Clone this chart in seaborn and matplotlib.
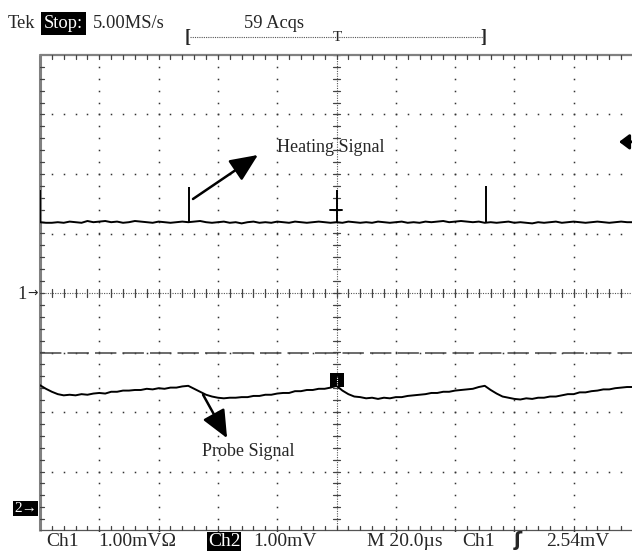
import numpy as np
import pandas as pd
import matplotlib
matplotlib.use("Agg")
import matplotlib.pyplot as plt
import seaborn as sns

# ---------------- data (time in µs, amplitude in divisions) ----------------
time_us = list(range(-100, 101, 2))

heating_div = [
    1.19, 1.18, 1.18, 1.19, 1.18, 1.20, 1.19, 1.18, 1.21, 1.19,
    1.20, 1.21, 1.19, 1.20, 1.18, 1.19, 1.21, 1.20, 1.19, 1.18,
    1.20, 1.19, 1.18, 1.19, 1.20, 1.19, 1.20, 1.21, 1.19, 1.18,
    1.19, 1.20, 1.18, 1.19, 1.17, 1.19, 1.20, 1.18, 1.19, 1.18,
    1.20, 1.19, 1.18, 1.20, 1.19, 1.18, 1.19, 1.20, 1.19, 1.18,
    1.19,
    1.18, 1.20, 1.19, 1.18, 1.19, 1.18, 1.20, 1.19, 1.18, 1.19,
    1.20, 1.18, 1.19, 1.18, 1.20, 1.19, 1.20, 1.21, 1.19, 1.20,
    1.21, 1.20, 1.19, 1.20, 1.18, 1.19, 1.18, 1.19, 1.20, 1.18,
    1.19, 1.18, 1.17, 1.19, 1.18, 1.19, 1.20, 1.18, 1.19, 1.20,
    1.19, 1.18, 1.19, 1.20, 1.19, 1.18, 1.19, 1.20, 1.19, 1.19,
]

probe_div = [
    -1.55, -1.61, -1.66, -1.70, -1.72, -1.71, -1.72, -1.70, -1.71, -1.69,
    -1.68, -1.69, -1.66, -1.66, -1.64, -1.64, -1.63, -1.63, -1.61, -1.62,
    -1.60, -1.61, -1.59, -1.59, -1.57,
    -1.56, -1.61, -1.66, -1.71, -1.74, -1.76, -1.77, -1.76, -1.76, -1.75,
    -1.75, -1.73, -1.73, -1.71, -1.71, -1.69, -1.68, -1.68, -1.65, -1.65,
    -1.63, -1.63, -1.61, -1.61, -1.59,
    -1.56, -1.64, -1.70, -1.74, -1.75, -1.77, -1.76, -1.78, -1.76, -1.77,
    -1.75, -1.75, -1.73, -1.72, -1.71, -1.70, -1.68, -1.68, -1.66, -1.66,
    -1.64, -1.63, -1.62, -1.61, -1.58,
    -1.56, -1.63, -1.69, -1.74, -1.76, -1.78, -1.79, -1.77, -1.78, -1.76,
    -1.76, -1.74, -1.74, -1.72, -1.70, -1.70, -1.67, -1.67, -1.65, -1.64,
    -1.62, -1.62, -1.60, -1.59, -1.58, -1.58,
]

spike_t = [-100, -49.7, 0.2, 50.4]
spike_peak = [1.73, 1.78, 1.73, 1.80]

probe_ref_level = -1.0      # dashed reference line
trigger_level = 2.54        # trigger level marker (div)

df_heat = pd.DataFrame({"t": time_us, "v": heating_div})
df_probe = pd.DataFrame({"t": time_us, "v": probe_div})

# ---------------- figure ----------------
sns.set_style("white")
plt.rcParams["font.family"] = ["Liberation Serif", "DejaVu Sans"]

W, H = 632, 552
fig = plt.figure(figsize=(W / 100, H / 100), dpi=100)
ax = fig.add_axes([40 / W, 21 / H, 593 / W, 476 / H])
ax.set_xlim(-100, 100)
ax.set_ylim(-4, 4)
ax.axis("off")

def fx(x):
    return x / W

def fy(y):
    return 1 - y / H

gc = "#333333"
# graticule dots
for gx in range(-80, 101, 20):
    if gx == 0:
        continue
    ys = np.arange(-4, 4.01, 0.2)
    ax.plot([gx] * len(ys), ys, ls="none", marker="s", ms=1.1, color=gc, mew=0)
for gy in [-3, -2, -1, 1, 2, 3]:
    xs = np.arange(-100, 100.1, 4)
    ax.plot(xs, [gy] * len(xs), ls="none", marker="s", ms=1.1, color=gc, mew=0)

# center cross
ax.axhline(0, color="#555555", lw=0.8, ls=(0, (1, 1.2)))
ax.axvline(0, color="#555555", lw=0.8, ls=(0, (1, 1.2)))
for xs in np.arange(-100, 100.1, 4):
    ax.plot([xs, xs], [-0.06, 0.06], color="#444444", lw=0.9)
for ys in np.arange(-4, 4.01, 0.2):
    ax.plot([-1.2, 1.2], [ys, ys], color="#444444", lw=0.9)

# borders
ax.plot([-100, -100], [-4, 4], color="#808080", lw=2.2, clip_on=False, solid_capstyle="butt")
ax.plot([-100, 100], [4, 4], color="#808080", lw=1.6, clip_on=False)
ax.plot([-100, 100], [-3.98, -3.98], color="#555555", lw=0.9, clip_on=False)
for xs in np.arange(-96, 100.1, 4):
    ax.plot([xs, xs], [4, 3.93], color="#444444", lw=0.9)
    ax.plot([xs, xs], [-3.98, -3.91], color="#444444", lw=0.9)
for ys in np.arange(-3.8, 4.0, 0.2):
    ax.plot([-100, -98.6], [ys, ys], color="#444444", lw=0.9)

# probe reference dashed line
ax.axhline(probe_ref_level, color="#444444", lw=1.1, ls=(0, (14, 4)))

# traces
sns.lineplot(data=df_heat, x="t", y="v", ax=ax, color="black", lw=1.4, sort=False)
ax.vlines(spike_t, [1.19] * len(spike_t), spike_peak, color="black", lw=1.4)
ax.plot([-2.2, 1.9], [1.39, 1.39], color="black", lw=1.4)
sns.lineplot(data=df_probe, x="t", y="v", ax=ax, color="black", lw=1.4, sort=False)

# channel-2 trigger position marker
ax.plot([0.2], [-1.47], marker="s", ms=10.5, color="black", mew=0, zorder=5)
ax.plot([0.2, 0.2], [-1.55, -1.39], color="white", lw=0.8, ls=(0, (1, 1)), zorder=6)

# annotations
ax.annotate("", xy=(-26.5, 2.32), xytext=(-48.4, 1.58),
            arrowprops=dict(arrowstyle="-|>,head_length=17,head_width=7.5",
                            mutation_scale=1, color="black", lw=1.8,
                            shrinkA=0, shrinkB=0))
ax.text(-20.1, 2.45, "Heating Signal", fontsize=13, ha="left", va="center")
ax.annotate("", xy=(-36.9, -2.44), xytext=(-45.0, -1.71),
            arrowprops=dict(arrowstyle="-|>,head_length=17,head_width=7.5",
                            mutation_scale=1, color="black", lw=1.8,
                            shrinkA=0, shrinkB=0))
ax.text(-45.4, -2.67, "Probe Signal", fontsize=13, ha="left", va="center")

# trigger level marker on the right
ax.annotate("", xy=(95.3, trigger_level), xytext=(104, trigger_level),
            arrowprops=dict(arrowstyle="-|>,head_length=6,head_width=4.5",
                            mutation_scale=1, color="black", lw=2.0,
                            shrinkA=0, shrinkB=0), annotation_clip=False)

# top bracket and trigger T
ax.plot([-49.5, 49.5], [4.30, 4.30], color="#555555", lw=0.8, ls=(0, (1, 1)), clip_on=False)
ax.text(-50.3, 4.30, "[", fontsize=13, ha="center", va="center", fontweight="bold")
ax.text(49.6, 4.30, "]", fontsize=13, ha="center", va="center", fontweight="bold")
ax.text(0.2, 4.30, "T", fontsize=11, ha="center", va="center")

# header / footer text
fs = 13.3
fig.text(fx(8), fy(28), "Tek", fontsize=fs, va="baseline")
fig.text(fx(44), fy(28), "Stop:", fontsize=fs, va="baseline", color="white",
         bbox=dict(facecolor="black", edgecolor="none", pad=1.8))
fig.text(fx(93), fy(28), "5.00MS/s", fontsize=fs, va="baseline")
fig.text(fx(244), fy(28), "59 Acqs", fontsize=fs, va="baseline")

fig.text(fx(17), fy(299), "1", fontsize=fs, va="baseline")
fig.text(fx(27), fy(297), "\u2192", fontsize=9, va="baseline", family=["DejaVu Sans"])
fig.text(fx(14), fy(512), "2\u2192", fontsize=11, va="baseline", color="white",
         bbox=dict(facecolor="black", edgecolor="none", pad=1.0))

fs2 = 14
fb = fy(546)
fig.text(fx(46), fb, "Ch1", fontsize=fs2, va="baseline")
fig.text(fx(98), fb, "1.00mV\u03a9", fontsize=fs2, va="baseline")
fig.text(fx(208), fb, "Ch2", fontsize=fs2, va="baseline", color="white",
         bbox=dict(facecolor="black", edgecolor="none", pad=0.6))
fig.text(fx(253), fb, "1.00mV", fontsize=fs2, va="baseline")
fig.text(fx(367), fb, "M 20.0\u00b5s", fontsize=fs2, va="baseline")
fig.text(fx(462), fb, "Ch1", fontsize=fs2, va="baseline")
fig.text(fx(514), fb, "\u0283", fontsize=fs2, va="baseline", fontweight="bold",
         family=["DejaVu Sans"])
fig.text(fx(546), fb, "2.54mV", fontsize=fs2, va="baseline")

fig.savefig("out.png", dpi=100)
